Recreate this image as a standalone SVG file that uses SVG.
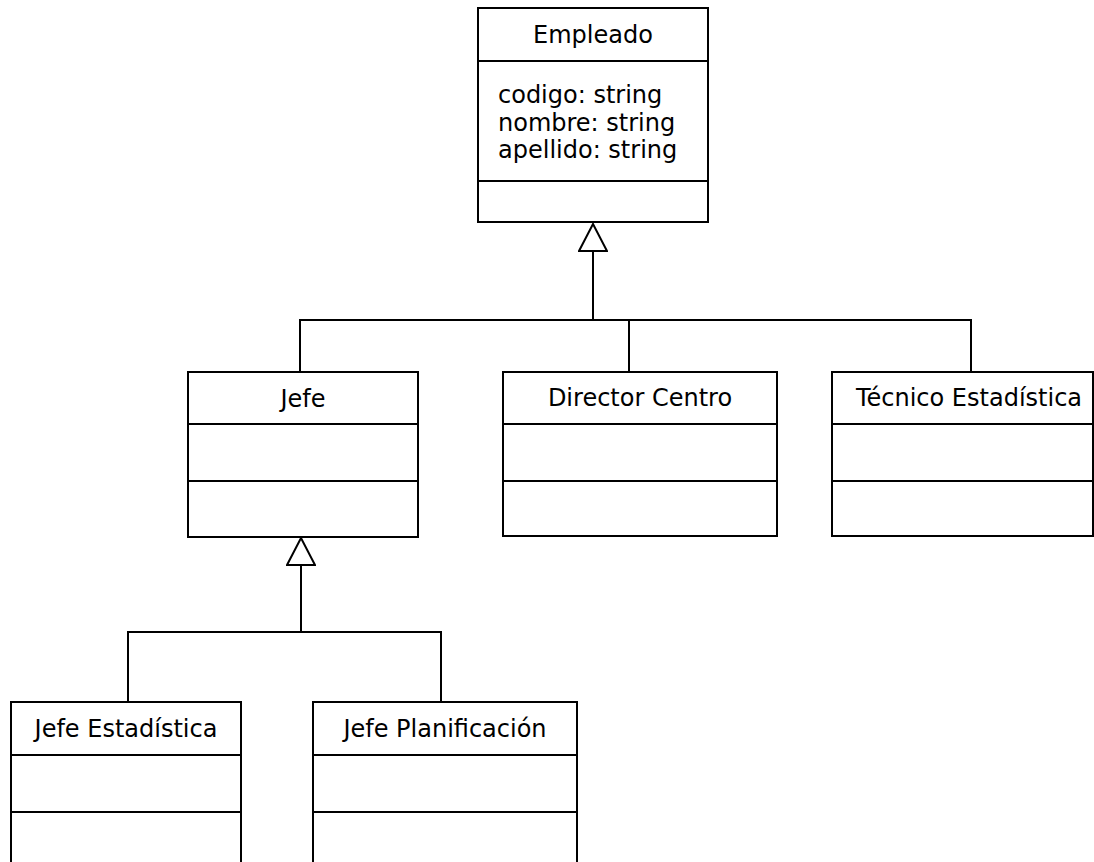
<svg xmlns="http://www.w3.org/2000/svg" width="1094" height="862" viewBox="0 0 1094 862">
  <style>
    .box { fill: #ffffff; stroke: #000000; stroke-width: 2; }
    .sep { stroke: #000000; stroke-width: 2; }
    .title { font-family: "DejaVu Sans", Verdana, sans-serif; font-size: 24px; fill: #000000; text-anchor: middle; }
    .attr { font-family: "DejaVu Sans", Verdana, sans-serif; font-size: 24px; fill: #000000; }
    .link { fill: none; stroke: #000000; stroke-width: 2; }
  </style>
  <defs>
    <!-- hollow triangle for generalization -->
    <marker id="gen" markerUnits="userSpaceOnUse" markerWidth="30" markerHeight="30" viewBox="-1 -1 30 30" refX="27" refY="14" orient="auto">
      <path d="M0,0 L27,14 L0,28 Z" fill="#ffffff" stroke="#000000" stroke-width="2" stroke-linejoin="miter"/>
    </marker>
  </defs>
  <rect width="1094" height="862" fill="#ffffff"/>

  <g id="connectors">
    <path class="link" d="M300,372 V320 H971 V372"/>
    <path class="link" d="M629,320 V372"/>
    <path class="link" d="M593,320 V224" marker-end="url(#gen)"/>
    <path class="link" d="M128,702 V632 H441 V702"/>
    <path class="link" d="M301,632 V538" marker-end="url(#gen)"/>
  </g>

  <g id="empleado">
    <rect class="box" x="478" y="8" width="230" height="214"/>
    <line class="sep" x1="478" y1="61" x2="708" y2="61"/>
    <line class="sep" x1="478" y1="181" x2="708" y2="181"/>
    <text class="title" x="593" y="43">Empleado</text>
    <text class="attr" x="498" y="103">codigo: string</text>
    <text class="attr" x="498" y="131">nombre: string</text>
    <text class="attr" x="498" y="158">apellido: string</text>
  </g>

  <g id="jefe">
    <rect class="box" x="188" y="372" width="230" height="165"/>
    <line class="sep" x1="188" y1="424" x2="418" y2="424"/>
    <line class="sep" x1="188" y1="481" x2="418" y2="481"/>
    <text class="title" x="303" y="407">Jefe</text>
  </g>

  <g id="director-centro">
    <rect class="box" x="503" y="372" width="274" height="164"/>
    <line class="sep" x1="503" y1="424" x2="777" y2="424"/>
    <line class="sep" x1="503" y1="481" x2="777" y2="481"/>
    <text class="title" x="640" y="406">Director Centro</text>
  </g>

  <g id="tecnico-estadistica">
    <rect class="box" x="832" y="372" width="261" height="164"/>
    <line class="sep" x1="832" y1="424" x2="1093" y2="424"/>
    <line class="sep" x1="832" y1="481" x2="1093" y2="481"/>
    <text class="title" x="969" y="406">Técnico Estadística</text>
  </g>

  <g id="jefe-estadistica">
    <rect class="box" x="11" y="702" width="230" height="180"/>
    <line class="sep" x1="11" y1="755" x2="241" y2="755"/>
    <line class="sep" x1="11" y1="812" x2="241" y2="812"/>
    <text class="title" x="126" y="737">Jefe Estadística</text>
  </g>

  <g id="jefe-planificacion">
    <rect class="box" x="313" y="702" width="264" height="180"/>
    <line class="sep" x1="313" y1="755" x2="577" y2="755"/>
    <line class="sep" x1="313" y1="812" x2="577" y2="812"/>
    <text class="title" x="445" y="737">Jefe Planificación</text>
  </g>
</svg>
